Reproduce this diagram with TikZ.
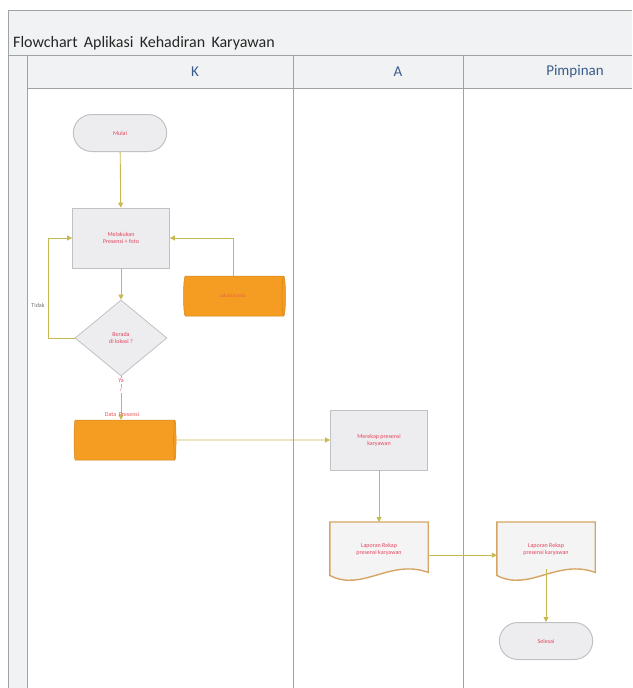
\documentclass[tikz,border=0pt]{standalone}
\usepackage{fontspec}
\setmainfont{Carlito}
\usetikzlibrary{shapes.geometric,shapes.misc,arrows.meta,calc,backgrounds}
\definecolor{lineg}{HTML}{9EA3A6}
\definecolor{bandg}{HTML}{F1F2F3}
\definecolor{conn}{HTML}{C8B850}
\definecolor{txtr}{HTML}{E3445E}
\definecolor{orng}{HTML}{F59D22}
\definecolor{boxf}{HTML}{EDEDEF}
\definecolor{boxd}{HTML}{BFC2C4}
\definecolor{docd}{HTML}{D6A566}
\definecolor{hdrt}{HTML}{3A5C8C}
\tikzset{
  lane/.style={draw=lineg, line width=0.9pt},
  term/.style={rounded rectangle, draw=boxd, fill=boxf, line width=1pt, minimum width=100pt, minimum height=37pt, font=\fontsize{6}{7}\selectfont, text=txtr},
  procbox/.style={rectangle, draw=boxd, fill=boxf, line width=0.8pt, minimum width=97pt, minimum height=60pt, align=center, font=\fontsize{6}{7}\selectfont, text=txtr},
  decision/.style={diamond, draw=boxd, fill=boxf, line width=0.8pt, minimum width=92pt, minimum height=76pt, inner sep=0pt, align=center, font=\fontsize{6}{7}\selectfont, text=txtr},
  store/.style={cylinder, shape border rotate=0, shape aspect=0.35, draw=orng!85!black, fill=orng, line width=0.5pt, minimum width=40pt, minimum height=102pt, font=\fontsize{5}{6}\selectfont, text=txtr!70!orng},
  doctext/.style={minimum width=98pt, minimum height=54pt, align=center, font=\fontsize{6}{7}\selectfont, text=txtr, anchor=north, text depth=0pt},
  conn/.style={draw=conn, line width=0.9pt, -{Triangle[length=5pt,width=5pt]}},
  lbl/.style={font=\fontsize{6}{7}\selectfont},
}
\begin{document}
\begin{tikzpicture}[x=1pt,y=-1pt]
\useasboundingbox (0,0) rectangle (632,688);
% frame (background layer, drawn first)
\begin{scope}[on background layer]
\fill[white] (0,0) rectangle (632,688);
\fill[bandg] (8,10) rectangle (632,55);
\fill[bandg] (8,55) rectangle (27,688);
\fill[bandg] (27,55) rectangle (632,88);
\draw[lane] (8,688) -- (8,10) -- (632,10);
\draw[lane] (8,55) -- (632,55);
\draw[lane] (27,55) -- (27,688);
\draw[lane] (27,88) -- (632,88);
\draw[lane] (293,55) -- (293,688);
\draw[lane] (463,55) -- (463,688);
\end{scope}
\node[anchor=base west, font=\fontsize{16}{18}\selectfont, text=black!85, inner sep=0pt] (title) at (13,47) {Flowchart\, Aplikasi\, Kehadiran\, Karyawan};
\node[font=\fontsize{15}{17}\selectfont, text=hdrt] (hK) at (195,72) {K};
\node[font=\fontsize{15}{17}\selectfont, text=hdrt] (hA) at (398,72) {A};
\node[font=\fontsize{15}{17}\selectfont, text=hdrt] (hP) at (575,72) {Pimpinan};
% nodes
\node[term] (mulai) at (120,133) {Mulai};
\node[procbox] (presensi) at (121,238) {Melakukan\\Presensi + foto};
\node[store] (lokasi) at (233,296) {Lokasi kantor};
\node[decision] (cek) at (121,338) {Berada\\di lokasi ?};
\node[store] (data) at (124,440) {};
\node[procbox] (rekap) at (379,440) {Merekap presensi\\karyawan};
\node[doctext] (lap1) at (379,522) {Laporan Rekap\\presensi karyawan};
\node[doctext] (lap2) at (546,522) {Laporan Rekap\\presensi karyawan};
\node[term] (selesai) at (546,641) {Selesai};
% document outlines
\begin{scope}[on background layer]
\foreach \d in {lap1,lap2}{
  \draw[draw=docd, line width=1.4pt, fill=boxf!60]
    (\d.north west) -- (\d.north east) -- ($(\d.south east)+(0,-4)$)
    .. controls ($(\d.south east)+(-38,-18)$) and ($(\d.south west)+(32,16)$) .. ($(\d.south west)+(0,-1)$) -- cycle;
}
\end{scope}
% connectors
\draw[conn] (mulai) -- (presensi);
\draw[conn] (lokasi.north) |- (presensi.east);
\draw[conn] (presensi) -- (cek);
\draw[conn] (cek.west) -- ++(-26,0) |- (presensi.west);
\node[lbl, text=black!55] (tidak) at (38,305) {Tidak};
\draw[conn] (cek.south) -- (cek.south |- data.north);
\node[lbl, text=txtr, fill=white, inner sep=1pt] (ya) at (121,381) {Ya};
\node[lbl, text=txtr, fill=white, inner sep=0.5pt] (ya2) at (121,390) {/};
\node[lbl, text=txtr!80!orng, inner sep=1pt] (datalbl) at (122,414) {Data\ \ Presensi};
\draw[conn] (data.east) -- (rekap.west);
\draw[conn] (rekap) -- (lap1.north);
\draw[conn] ($(lap1.east)+(0,6)$) -- ($(lap2.west)+(0,6)$);
\draw[conn] ($(lap2.south)+(0,-7)$) -- (selesai.north);
\end{tikzpicture}
\end{document}
